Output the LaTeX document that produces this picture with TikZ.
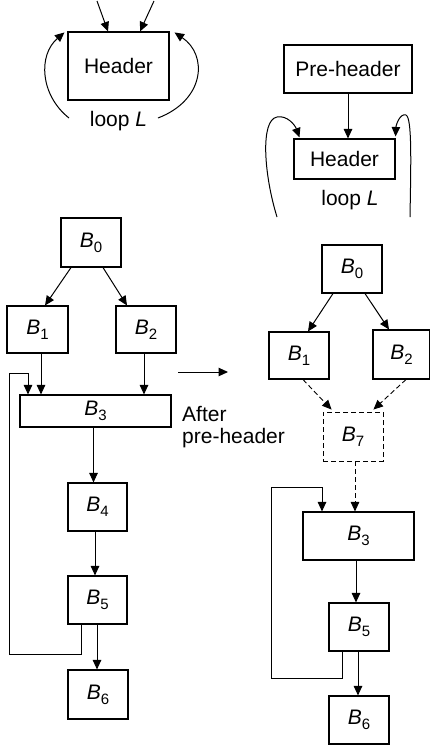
\documentclass[tikz,border=0pt]{standalone}
\usepackage{fontspec}
\setmainfont{Liberation Sans}
\usetikzlibrary{arrows.meta,calc}
\newcommand\Blbl[1]{\textit{B}\raisebox{-5pt}{\fontsize{15}{15}\selectfont #1}}
\begin{document}
\begin{tikzpicture}[x=1pt,y=-1pt,
  blk/.style={draw,line width=1.1pt,inner sep=0pt,font=\fontsize{21}{24}\selectfont},
  lbl/.style={inner sep=0pt,font=\fontsize{21}{22}\selectfont},
  arr/.style={-{Triangle[length=9.5pt,width=8.5pt]},line width=1pt},
  dsh/.style={dash pattern=on 5pt off 3pt,line width=0.9pt}]
\useasboundingbox (0,0) rectangle (430,745);
% ---------- top left
\node[blk,minimum width=101pt,minimum height=68pt] (hA) at (118.5,66) {Header};
\node[lbl] (loopA) at (118.5,121) {loop \textit{L}};
\coordinate (inA1) at (97,1);
\coordinate (inA2) at (154,1);
\draw[arr] (inA1) -- ($(hA.north)+(-10.5,0)$);
\draw[arr] (inA2) -- ($(hA.north)+(21.5,0)$);
\coordinate (cA1) at (69,118);
\coordinate (cA2) at (158,118);
\draw[arr] (cA1) .. controls (40,95) and (38,55) .. ($(hA.north west)+(-3,1)$);
\draw[arr] (cA2) .. controls (205,100) and (208,55) .. ($(hA.north east)+(5,1)$);
% ---------- top right
\node[blk,minimum width=128pt,minimum height=48pt] (pre) at (348,69) {Pre-header};
\node[blk,minimum width=101pt,minimum height=40pt] (hB) at (344.5,159) {Header};
\node[lbl] (loopB) at (350,200) {loop \textit{L}};
\draw[arr] (pre.south) -- (pre.south |- hB.north);
\coordinate (cB1) at (277,217);
\coordinate (cB2) at (410,217);
\draw[arr] (cB1) .. controls (264,175) and (260,120) .. (277,117)
  .. controls (287,115) and (295,125) .. ($(hB.north west)+(6,-1)$);
\draw[arr] (cB2) .. controls (411,160) and (412,118) .. (406,115)
  .. controls (400,113) and (396,125) .. ($(hB.north east)+(0,-2)$);
% ---------- bottom left
\node[blk,minimum width=60pt,minimum height=49pt] (lB0) at (91,242.5) {\Blbl{0}};
\node[blk,minimum width=61pt,minimum height=47pt] (lB1) at (37.5,329.5) {\Blbl{1}};
\node[blk,minimum width=60pt,minimum height=47pt] (lB2) at (146,329.5) {\Blbl{2}};
\node[blk,minimum width=151pt,minimum height=32pt] (lB3) at (95.5,411) {\Blbl{3}};
\node[blk,minimum width=59pt,minimum height=48pt] (lB4) at (97.5,507) {\Blbl{4}};
\node[blk,minimum width=59pt,minimum height=48pt] (lB5) at (97.5,600) {\Blbl{5}};
\node[blk,minimum width=60pt,minimum height=49pt] (lB6) at (98,694.5) {\Blbl{6}};
\draw[arr] ($(lB0.south)+(-20,0)$) -- ($(lB1.north)+(7.5,0)$);
\draw[arr] ($(lB0.south)+(12,0)$) -- ($(lB2.north)+(-19,0)$);
\draw[arr] ($(lB1.south)+(3.5,0)$) coordinate (t1) -- (t1 |- lB3.north);
\draw[arr] ($(lB2.south)+(-2,0)$) coordinate (t2) -- (t2 |- lB3.north);
\draw[arr] ($(lB3.south)+(-2,0)$) coordinate (t3) -- (t3 |- lB4.north);
\draw[arr] ($(lB4.south)+(-2.5,0)$) coordinate (t4) -- (t4 |- lB5.north);
\draw[arr] ($(lB5.south)+(-0.5,0)$) coordinate (t5) -- (t5 |- lB6.north);
\draw[arr] ($(lB5.south)+(-16.5,0)$) -- ++(0,30) -| (9,373) -| ($(lB3.north)+(-67.5,0)$);
% ---------- middle
\coordinate (mA) at (178,372);
\coordinate (mB) at (228,372);
\draw[arr] (mA) -- (mB);
\node[lbl,align=left,anchor=west] (aft) at (182,427) {After\\pre-header};
% ---------- bottom right
\node[blk,minimum width=60pt,minimum height=48pt] (rB0) at (352,269) {\Blbl{0}};
\node[blk,minimum width=60pt,minimum height=47pt] (rB1) at (299,355.5) {\Blbl{1}};
\node[blk,minimum width=57pt,minimum height=49pt] (rB2) at (401.5,354.5) {\Blbl{2}};
\node[blk,dsh,minimum width=60pt,minimum height=49pt] (rB7) at (353,436.5) {\Blbl{7}};
\node[blk,minimum width=111pt,minimum height=48pt] (rB3) at (358.5,536) {\Blbl{3}};
\node[blk,minimum width=60pt,minimum height=48pt] (rB5) at (359,627) {\Blbl{5}};
\node[blk,minimum width=60pt,minimum height=48pt] (rB6) at (359,720) {\Blbl{6}};
\draw[arr] ($(rB0.south)+(-19,0)$) -- ($(rB1.north)+(9,0)$);
\draw[arr] ($(rB0.south)+(13,0)$) -- ($(rB2.north)+(-12.5,0)$);
\draw[arr,dsh] ($(rB1.south)+(4,0)$) -- ($(rB7.north west)+(9,-2)$);
\draw[arr,dsh] ($(rB2.south)+(4.5,0)$) -- ($(rB7.north east)+(-10,-2)$);
\draw[arr,dsh] ($(rB7.south)+(2,0)$) coordinate (u1) -- (u1 |- rB3.north);
\draw[arr] ($(rB3.south)+(-2.5,0)$) coordinate (u2) -- (u2 |- rB5.north);
\draw[arr] ($(rB5.south)+(-1,0)$) coordinate (u3) -- (u3 |- rB6.north);
\draw[arr] ($(rB5.south)+(-17,0)$) -- ++(0,27) -| (271,487) -| ($(rB3.north)+(-36.5,0)$);
\end{tikzpicture}
\end{document}
